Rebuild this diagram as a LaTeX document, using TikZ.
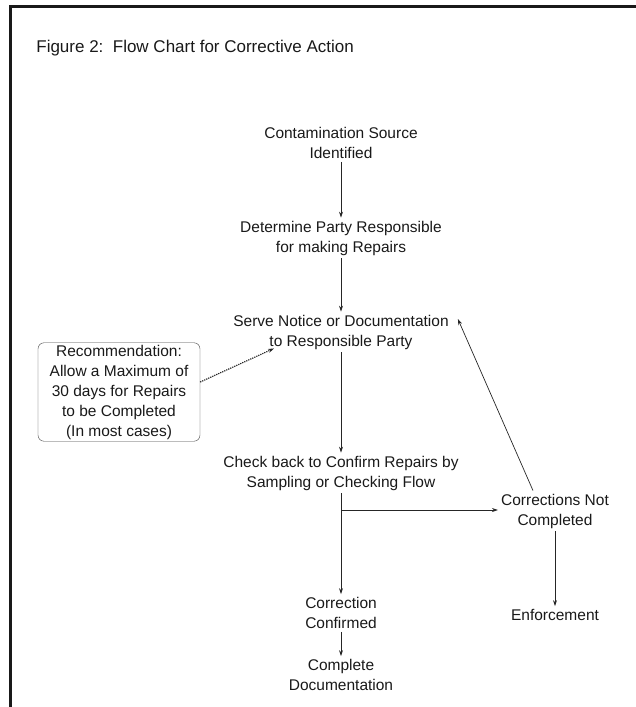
\documentclass[tikz,border=0pt]{standalone}
\usepackage{fontspec}
\setmainfont{Liberation Sans}
\usetikzlibrary{arrows.meta}

\begin{document}
\begin{tikzpicture}[x=1pt, y=-1pt, >={Stealth[length=6pt,width=4pt]},
  stepnode/.style={align=center, inner sep=3pt},
  note/.style={draw=black!75, rounded corners=6pt, align=center,
    minimum width=162pt, minimum height=98pt, inner sep=2pt},
  flow/.style={->, draw=black!85, line width=0.7pt}]
\useasboundingbox (0,0) rectangle (636,707);
\fontsize{15.5}{20}\selectfont
\color{black!90}

% frame
\draw[line width=3pt] (9,6.5) -- (636,6.5);
\draw[line width=3.5pt] (10.5,5) -- (10.5,707);

\node[anchor=west, font=\fontsize{17}{20}\selectfont] (title) at (31,48)
  {Figure 2:\ \ Flow Chart for Corrective Action};

\node[stepnode] (source) at (341,143) {Contamination Source\\Identified};
\node[stepnode] (party) at (341,238) {Determine Party Responsible\\for making Repairs};
\node[stepnode] (notice) at (341,332) {Serve Notice or Documentation\\to Responsible Party};
\node[stepnode] (check) at (341,473) {Check back to Confirm Repairs by\\Sampling or Checking Flow};
\node[stepnode] (confirmed) at (341,613) {Correction\\Confirmed};
\node[stepnode] (complete) at (341,675) {Complete\\Documentation};
\node[stepnode] (notdone) at (555,511) {Corrections Not\\Completed};
\node[stepnode] (enforce) at (555,615) {Enforcement};

\node[note] (rec) at (119,392) {Recommendation:\\Allow a Maximum of\\30 days for Repairs\\to be Completed\\(In most cases)};

\draw[flow] (source) -- (party);
\draw[flow] (party) -- (notice);
\draw[flow] (notice) -- (check);
\draw[flow] (check) -- (confirmed);
\draw[flow] (confirmed) -- (complete);
\coordinate (split) at (341,510);
\draw[flow] (split) -- (split -| notdone.west);
\draw[flow] (notdone) -- (enforce);
\draw[flow] ([xshift=-22pt]notdone.north) -- ([xshift=6pt,yshift=13pt]notice.east);
\draw[->, densely dotted, line width=1.2pt, black!85] ([yshift=10pt]rec.east) -- ([xshift=-67pt,yshift=4pt]notice.south);
\end{tikzpicture}
\end{document}
